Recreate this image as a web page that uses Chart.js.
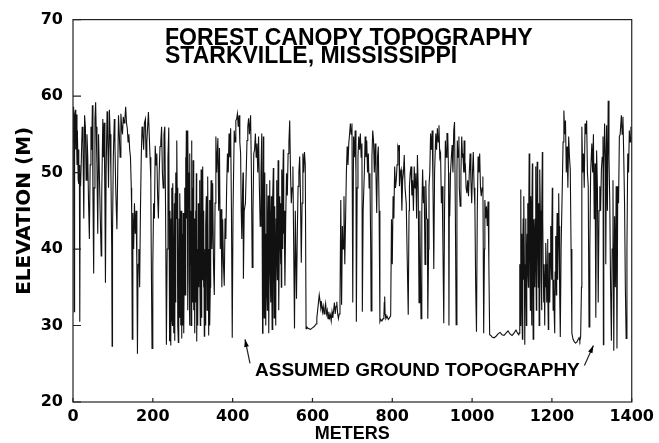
<!DOCTYPE html>
<html>
<head>
<meta charset="utf-8">
<script src="https://cdn.jsdelivr.net/npm/chart.js@4"></script>
<style>
  body { margin: 0; background: #fff; }
  #wrap { width: 659px; height: 443px; }
</style>
</head>
<body>
<div id="wrap"><canvas id="chart-canopy"></canvas></div>
<script>
// [meters, elevation], stand by stand
const westStand = [
	[0, 54], [1, 58.6], [2, 56], [3, 31.8], [4, 57.5], [6, 58.2], [7, 53], [8, 57.6], [10, 51], [11, 55.5],
	[13, 49], [14, 53], [15, 48.5], [16, 51], [17, 30.5], [18, 50], [19, 48.2], [21, 52], [23, 56], [25, 54],
	[27, 44], [29, 57.5], [31, 56], [33, 49], [35, 55], [37, 52], [39, 46], [41, 41.3], [43, 51], [45, 56],
	[47, 53], [48.5, 58.8], [50, 47], [51.8, 36.8], [53, 48], [55, 57], [56.7, 59.2], [58, 56], [60, 51], [62, 42],
	[64, 55], [66, 50], [68, 45], [70.6, 39.1], [72, 47], [74.7, 57], [76, 52], [78, 56.5], [80, 46], [81.3, 35.6],
	[83, 50], [85.4, 58], [87, 55], [89, 48], [91.2, 58.2], [93, 55], [95, 50], [97, 40], [98, 27.3], [99, 42],
	[101, 52], [103.5, 57], [105, 54], [107, 48], [110, 42.6], [112, 50], [114, 57.5], [116, 55], [118, 52], [120, 57.7],
	[122, 56], [124, 55], [126, 57.3], [128, 56.5], [130, 57], [132, 58.6], [134, 56.5], [136, 55.8], [138, 54], [140, 55],
	[142, 53], [144, 52], [146, 48], [147, 45], [148.5, 28.2], [150, 44.7], [152, 40], [154, 46], [156, 42], [158, 45],
	[160, 38], [161.5, 26.3], [163, 38], [165, 40], [167, 35], [169, 45], [171, 52], [173, 56], [175, 55], [177, 53],
	[179, 56.5], [181.5, 57], [183, 52], [185, 54], [187, 56], [189, 57.9], [191, 55], [193, 52], [195, 49], [196, 40],
	[198, 27], [200, 38], [202, 46], [204, 44], [206, 53.5], [208, 51], [210, 52.5], [212, 47], [214, 44], [216, 50],
	[218, 53.4], [220, 54], [222, 56], [224, 50], [226, 48], [228, 55], [230, 56], [232, 45], [234, 27.5], [236, 40],
	[238, 52], [240, 55.9]
];

const denseStand = [
	[242, 28], [243, 45], [244, 33], [245, 27.4], [246, 44], [247, 48], [248, 31], [249, 30], [250, 48.6], [251, 40],
	[252, 35], [253, 29], [254, 46], [255, 28], [256, 47.3], [257, 33], [258, 50], [259, 44], [260, 54.2], [261, 48],
	[262, 40], [263, 30], [264, 27.8], [265, 38], [266, 44], [267, 31], [268, 47.3], [269, 42], [270, 30], [271, 45],
	[272, 28.3], [273, 36], [274, 42], [275, 30], [276, 44.7], [277, 38], [278, 29], [279, 40], [280, 48], [281, 34],
	[282, 52], [283, 45], [284, 55.5], [285, 44], [286, 54], [287, 32], [288, 55.5], [289, 46], [290, 50], [291, 36],
	[292, 30], [293, 52.5], [294, 38], [295, 45], [296, 30], [297, 54.2], [298, 41], [299, 48], [300, 33], [301, 51.6],
	[302, 40], [303, 32], [304, 44], [305, 29], [306, 38], [307, 45], [308, 33], [309, 49.9], [310, 27.9], [311, 36],
	[312, 40], [313, 30], [314, 46], [315, 35], [316, 44], [317, 49], [318, 38], [319, 30], [320, 42], [321, 50.4],
	[322, 31], [323, 44], [324, 36], [325, 50.8], [326, 42], [327, 35], [328, 45], [329, 28.6], [330, 37], [331, 40],
	[332, 30], [333, 43], [334, 46.9], [335, 38], [336, 32], [337, 44], [338, 49.5], [339, 36], [340, 28.7], [341, 40],
	[342, 46.4], [343, 30], [344, 35], [345, 45], [346, 49], [348, 40], [350, 48.6], [352, 38], [354, 34], [356, 46],
	[358, 54.7], [360, 50], [363, 54.5], [365, 45], [367, 53.2], [369, 40], [371, 45.2], [373, 35], [375, 43.9], [377, 38],
	[379, 35.2], [381, 44], [383, 41.3], [385, 48], [387, 52.5], [389, 50], [391, 55.1], [393, 52], [395, 55.8], [397, 45],
	[399, 28.4], [401, 45], [404, 55.5], [406, 54], [408, 56.8], [410, 57], [412, 57.7], [414, 56], [416, 57.5], [418, 54],
	[420, 52.5], [421.5, 45], [423, 41.3], [425, 48], [426, 50], [427, 36.1], [429, 45], [432, 46], [434, 50], [436, 54.2],
	[438, 56], [440, 57.1], [442, 55], [445, 57.5], [447, 50], [449, 37.6], [451, 45], [453, 52.5], [455, 53], [457, 55.1],
	[459, 52], [461, 53.8], [463, 50], [465, 54.7], [467, 48], [469, 43], [471, 50], [473, 55.1]
];

const midStand = [
	[475, 29], [476, 45], [477, 54.7], [478, 38], [479, 31], [480, 46], [481, 50], [482, 36], [483, 30], [484, 42],
	[485, 48.5], [486, 35], [487, 32], [488, 44], [489, 47], [490, 33], [491, 29], [492, 40], [493, 49], [494, 38],
	[495, 33], [496, 43], [497, 46.9], [498, 36], [499, 29.5], [500, 42], [501, 47], [502, 50.6], [503, 38], [504, 31],
	[505, 40], [506, 45.6], [507, 35], [508, 30], [509, 44], [510, 49], [511, 40], [512, 36], [513, 45], [514, 51.6],
	[515, 41], [516, 32], [517, 40], [518, 46.9], [519, 42], [520, 38], [521, 46], [522, 35], [523, 50.4], [524, 44],
	[525, 40], [526, 48], [527, 53], [528, 42], [529, 45], [531, 35.2], [533, 44], [535, 49.9], [537, 47], [539, 52.5],
	[541, 54], [543, 56.8], [545, 50], [547, 46], [549, 48], [551, 50.8], [553, 40], [555, 29.6], [557, 45], [560, 33.5],
	[562, 42], [564, 48.2], [566, 50], [568, 52.1], [570, 47], [572, 38.2], [574, 46], [576, 52.5], [578, 50], [580, 52.7],
	[582, 51], [584, 29.6]
];

const clearingA = [
	[586, 29.8], [590, 29.6], [595, 29.5], [600, 29.7], [605, 29.9], [609, 30.2], [611, 31], [613, 32], [615, 33], [617, 34],
	[619, 33.2], [621, 32.3], [623, 32.8], [625, 31.8], [627, 32.5], [629, 31.5], [631, 32.2], [633, 32.9], [635, 31.5], [637, 32],
	[639, 30.9], [641, 31.8], [643, 31], [645, 31.4], [647, 30.6], [649, 31.8], [651, 31], [653, 32], [655, 33], [657, 31.5],
	[659, 32.5], [661, 33.1], [663, 31.6], [665, 30.9], [667, 31.5], [669, 33]
];

const standB = [
	[671, 46.4], [673, 32.7], [675, 43], [677, 40], [679, 46.9], [681, 38], [683, 43.9], [685, 50], [687, 53.4], [689, 51],
	[691, 53.8], [693, 55], [695, 56.4], [697, 55], [699, 56.4], [701, 33], [703, 54.7], [705, 52], [707, 55.5], [709, 50],
	[710, 30.5], [712, 48], [714, 52], [716, 54.7], [718, 53], [720, 55.1], [722, 52], [724, 53.8], [725, 31.8], [727, 45],
	[730, 50], [732, 54.7], [734, 52], [736, 54.2], [738, 50], [740, 52.5], [742, 48], [744, 49.9], [746, 40], [747, 31.9],
	[749, 52], [751, 55.5], [753, 54.2], [755, 50], [757, 53.8], [759, 50], [761, 44.7], [763, 52], [765, 53.4], [767, 45],
	[769, 30.5]
];

const clearingB = [
	[771, 30.8], [774, 30.6], [777, 30.9], [779, 31.2], [780, 33], [781, 33.8], [782, 31.5], [784, 30.9], [787, 31.2], [790, 30.8],
	[793, 31], [796, 31.3]
];

const standC = [
	[798, 43.9], [800, 38], [802, 46.9], [804, 44], [806, 50.8], [808, 48], [810, 49], [812, 51], [814, 53.4], [816, 53],
	[817, 53.6], [818, 48.2], [820, 50], [822, 50.4], [824, 45], [826, 49], [828, 50], [830, 52.3], [832, 48], [835, 46],
	[837, 40], [840, 31.4], [842, 45], [843, 48.2], [845, 50], [847, 50.8], [849, 47], [851, 49], [853, 45], [855, 50.8],
	[857, 48], [859, 49.9], [861, 44], [863, 52.3], [865, 48], [867, 33], [869, 45], [870, 40], [872, 30.9], [874, 45],
	[876, 50.4], [878, 46], [880, 48.2], [882, 38], [884, 49], [886, 44], [888, 43.9], [889, 30.9], [891, 40], [892, 48.2],
	[894, 50], [896, 55.1], [898, 53], [900, 55.5], [902, 48], [904, 37.4], [906, 50], [909, 55.1], [911, 53], [913, 55.8],
	[915, 54], [917, 56.2], [919, 52], [921, 52.5], [923, 46], [925, 48.2], [927, 40], [929, 30.3], [931, 45], [933, 54.2],
	[935, 52], [937, 55.1], [939, 55.1], [941, 50], [942, 30], [943, 47], [944, 44.3], [946, 50], [948, 52], [950, 53.6],
	[952, 50], [954, 55.5], [956, 56.6], [958, 45], [960, 30.1], [962, 50], [963, 54.2], [965, 52], [967, 54.7], [968, 48],
	[970, 45.6], [972, 50], [974, 54.7], [976, 52], [977, 52.5], [979, 50], [980, 54.2], [982, 50], [983, 51.2], [985, 48],
	[987, 47.3], [989, 49], [991, 46.9], [993, 50], [995, 52.5], [997, 49], [999, 46], [1001, 50], [1003, 52.7], [1005, 48],
	[1007, 45.6], [1009, 35], [1011, 29.2], [1013, 45], [1015, 52.1], [1017, 50], [1019, 52.5], [1021, 48], [1023, 46.9], [1025, 48],
	[1027, 49.5], [1029, 29], [1031, 40], [1032, 46.4], [1034, 44], [1036, 45.6], [1038, 43], [1040, 46.2], [1042, 38], [1044, 28.8]
];

const clearingC = [
	[1047, 28.7], [1050, 28.5], [1055, 28.4], [1060, 28.6], [1065, 28.9], [1070, 29.1], [1075, 28.8], [1080, 28.7], [1085, 29], [1090, 29.3],
	[1095, 28.9], [1100, 28.7], [1105, 29], [1110, 29.4], [1114, 29], [1117, 28.8]
];

const standD = [
	[1118, 29], [1119, 36], [1120, 38], [1121, 30], [1122, 47.8], [1123, 35], [1124, 42], [1125, 33], [1126, 28.2], [1127, 40],
	[1128, 44], [1129, 36], [1130, 46.9], [1131, 38], [1132, 27.5], [1133, 35], [1134, 39.5], [1135, 44], [1136, 30], [1137, 38],
	[1138, 42], [1139, 46], [1140, 37], [1141, 35], [1142, 45], [1143, 52.5], [1144, 43], [1145, 40], [1146, 32], [1147, 46.9],
	[1148, 40], [1149, 30], [1150, 44], [1151, 51.2], [1152, 37], [1153, 28.2], [1154, 38], [1155, 43.9], [1156, 41], [1157, 35],
	[1158, 44], [1159, 50.8], [1160, 40], [1161, 32], [1162, 45], [1163, 51.4], [1164, 43], [1165, 40], [1166, 35], [1167, 46],
	[1168, 30], [1169, 42], [1170, 50.4], [1171, 45], [1172, 43.9], [1173, 36], [1174, 32], [1175, 45], [1176, 52.7], [1177, 44],
	[1178, 38], [1179, 33], [1180, 37.4], [1181, 35], [1182, 30], [1183, 38], [1184, 35], [1185, 40.8], [1186, 38], [1187, 33],
	[1188, 36], [1189, 41.3], [1190, 35], [1191, 29.5], [1192, 34], [1193, 39.5], [1194, 36], [1195, 33], [1196, 38], [1197, 43],
	[1198, 39], [1199, 36], [1200, 41], [1201, 48], [1202, 38], [1203, 32], [1204, 36], [1205, 35.2], [1206, 31], [1207, 29],
	[1208, 37], [1209, 41.7], [1210, 38], [1211, 34], [1212, 40], [1213, 44.7], [1214, 39], [1215, 36], [1216, 42], [1217, 47.3],
	[1218, 43], [1219, 40], [1220, 34], [1221, 28.5], [1223, 40], [1226, 48.2], [1228, 54], [1230, 58.1], [1232, 55], [1234, 56.8],
	[1236, 50], [1238, 53.4], [1240, 48], [1242, 54.7], [1244, 52], [1246, 50.4], [1248, 40], [1250, 29]
];

const clearingD = [
	[1253, 28.2], [1256, 27.9], [1259, 27.7], [1262, 27.8], [1265, 28.1], [1268, 28.4], [1270, 28], [1272, 28.5]
];

const eastStand = [
	[1274, 35], [1275, 56], [1277, 50], [1279, 52.5], [1281, 48], [1283, 56.4], [1285, 55], [1287, 56.8], [1289, 50], [1291, 48.2],
	[1293, 29.8], [1295, 40], [1297, 50], [1300, 53.8], [1302, 50], [1304, 55], [1306, 43.9], [1308, 51.2], [1310, 31], [1312, 52.9],
	[1314, 48], [1316, 33], [1318, 45], [1320, 48.2], [1322, 45], [1324, 50.4], [1326, 52], [1328, 54.7], [1329, 27.5], [1330, 50],
	[1332, 56.4], [1334, 52], [1335, 38], [1337, 56.2], [1339, 45], [1341, 59.4], [1343, 52], [1345, 46], [1347, 35], [1349, 28],
	[1351, 40], [1353, 49], [1355, 26.7], [1357, 44.3], [1359, 35], [1361, 48.2], [1363, 27], [1365, 48.2], [1367, 46], [1369, 54.7],
	[1371, 55], [1374, 57.5], [1376, 55], [1378, 57.3], [1380, 52], [1382, 46], [1384, 35], [1386, 28.3], [1388, 40], [1390, 52.5],
	[1392, 50], [1394, 55.5], [1396, 54], [1398, 56], [1400, 55]
];

const profile = [].concat(westStand, denseStand, midStand, clearingA, standB, clearingB,
	standC, clearingC, standD, clearingD, eastStand);

// arrows point at the ground line: [meters, elevation] of the tip
const groundArrows = [[431, 28.2], [1304, 27.4]];

const ctx = document.getElementById("chart-canopy");

const labelFont = { family: "'DejaVu Sans'", weight: "bold", size: 16 };

const overlay = {
	id: "overlay",
	afterDraw(chart) {
		const { ctx, chartArea: a, scales } = chart;
		const x = scales.x;
		const y = scales.y;
		ctx.save();
		ctx.strokeStyle = "#222";
		ctx.lineWidth = 1.2;
		ctx.strokeRect(a.left, a.top, a.right - a.left, a.bottom - a.top);

		// inward tick marks
		ctx.beginPath();
		y.ticks.forEach((t) => {
			const py = y.getPixelForValue(t.value);
			ctx.moveTo(a.left, py);
			ctx.lineTo(a.left + 8, py);
		});
		x.ticks.forEach((t) => {
			const px = x.getPixelForValue(t.value);
			ctx.moveTo(px, a.bottom);
			ctx.lineTo(px, a.bottom - 4);
		});
		ctx.stroke();

		ctx.fillStyle = "#000";
		ctx.textBaseline = "alphabetic";
		ctx.font = "bold 23px 'Liberation Sans'";
		ctx.fillText("FOREST CANOPY TOPOGRAPHY", 165, 45);
		ctx.fillText("STARKVILLE, MISSISSIPPI", 165, 63);
		ctx.font = "bold 19px 'Liberation Sans'";
		ctx.fillText("ASSUMED GROUND TOPOGRAPHY", 255, 376);

		const tails = [[5, 24], [-9, 20]];
		groundArrows.forEach((p, i) => {
			const tx = x.getPixelForValue(p[0]);
			const ty = y.getPixelForValue(p[1]);
			const sx = tx + tails[i][0];
			const sy = ty + tails[i][1];
			ctx.lineWidth = 1.2;
			ctx.beginPath();
			ctx.moveTo(sx, sy);
			ctx.lineTo(tx, ty);
			ctx.stroke();
			const ang = Math.atan2(ty - sy, tx - sx);
			ctx.beginPath();
			ctx.moveTo(tx, ty);
			ctx.lineTo(tx - 8 * Math.cos(ang - 0.3), ty - 8 * Math.sin(ang - 0.3));
			ctx.lineTo(tx - 8 * Math.cos(ang + 0.3), ty - 8 * Math.sin(ang + 0.3));
			ctx.closePath();
			ctx.fill();
		});
		ctx.restore();
	},
};

new Chart(ctx, {
	type: "line",
	data: {
		datasets: [
			{
				data: profile.map((p) => ({ x: p[0], y: p[1] })),
				borderColor: "#111",
				borderWidth: 1.1,
				pointRadius: 0,
				tension: 0,
				fill: false,
			},
		],
	},
	plugins: [overlay],
	options: {
		responsive: true,
		maintainAspectRatio: false,
		animation: false,
		layout: { padding: { top: 17, right: 18, left: 0, bottom: 0 } },
		plugins: { legend: { display: false }, tooltip: { enabled: false } },
		scales: {
			x: {
				type: "linear",
				min: 0,
				max: 1400,
				afterFit: (scale) => { scale.height = 41; },
				grid: { display: false, drawTicks: false },
				border: { display: false },
				ticks: {
					stepSize: 200,
					color: "#000",
					font: labelFont,
					padding: 5,
					maxRotation: 0,
					callback: (v) => String(v),
				},
				title: {
					display: true,
					text: "METERS",
					color: "#000",
					font: { family: "'Liberation Sans'", weight: "bold", size: 18, lineHeight: 1 },
					padding: { top: 0, bottom: 0 },
				},
			},
			y: {
				min: 20,
				max: 70,
				afterFit: (scale) => { scale.width = 73; },
				grid: { display: false, drawTicks: false },
				border: { display: false },
				ticks: { stepSize: 10, color: "#000", font: labelFont, padding: 10 },
				title: {
					display: true,
					text: "ELEVATION (M)",
					color: "#000",
					font: { family: "'DejaVu Sans'", weight: "bold", size: 20, lineHeight: 1 },
					padding: { top: 15, bottom: 0 },
				},
			},
		},
	},
});
</script>
</body>
</html>
